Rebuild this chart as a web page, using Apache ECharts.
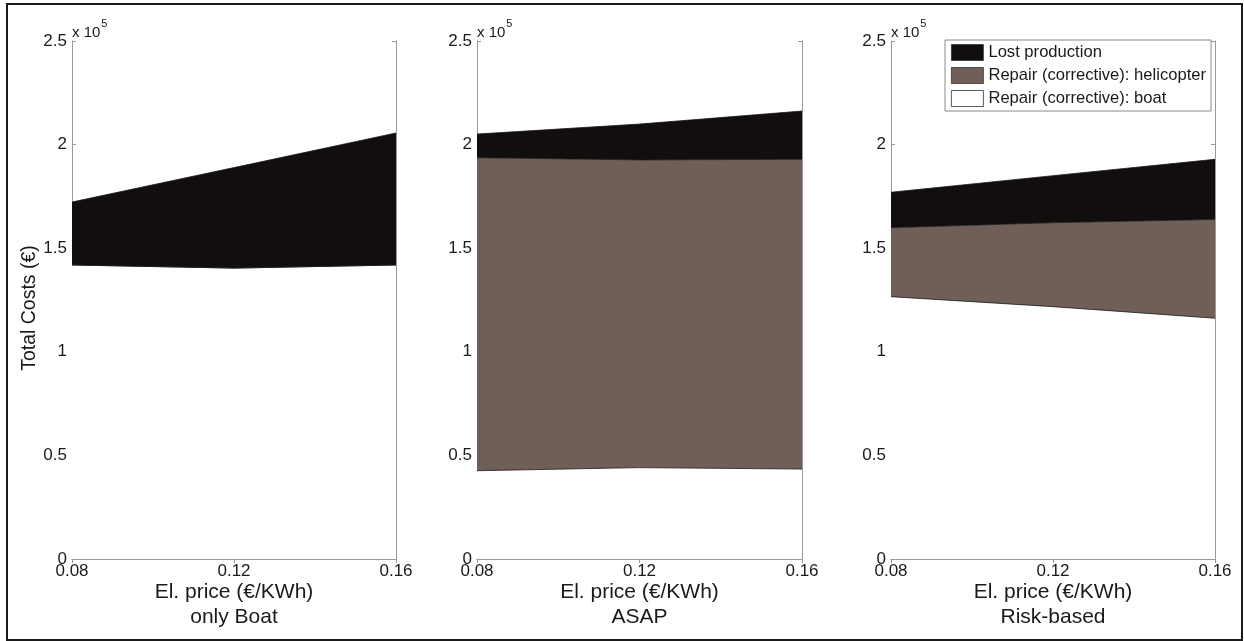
<!DOCTYPE html>
<html>
<head>
<meta charset="utf-8">
<script src="https://cdn.jsdelivr.net/npm/echarts@6/dist/echarts.min.js"></script>
<style>
html,body{margin:0;padding:0;background:#fff;}
#c{width:1244px;height:641px;}
</style>
</head>
<body>
<div id="c"></div>
<script>
// ---- data ----
const prices = ['0.08', '0.12', '0.16'];
const panelNames = ['only Boat', 'ASAP', 'Risk-based'];
const seriesNames = ['Repair (corrective): boat', 'Repair (corrective): helicopter', 'Lost production'];
// only Boat
const onlyBoatBoat = [141900, 140400, 141900];
const onlyBoatHeli = [0, 0, 0];
const onlyBoatLost = [30400, 48500, 63700];
// ASAP
const asapBoat = [42600, 44100, 43400];
const asapHeli = [151100, 148500, 149500];
const asapLost = [11400, 17300, 23300];
// Risk-based
const riskBoat = [126600, 121800, 116200];
const riskHeli = [33300, 40500, 47700];
const riskLost = [17100, 22700, 29000];
const yTicks = [0, 50000, 100000, 150000, 200000, 250000];

const panels = [
  [onlyBoatBoat, onlyBoatHeli, onlyBoatLost],
  [asapBoat, asapHeli, asapLost],
  [riskBoat, riskHeli, riskLost]
];
const fills = ['#ffffff', '#6f5f58', '#120e0d'];
const FONT = '"Liberation Sans", Arial, Helvetica, sans-serif';
const TXT = '#1a1a1a';
const AX = '#999999';

const gridPos = [
  {left: 72, width: 324},
  {left: 477, width: 325},
  {left: 891, width: 324}
];

const grid = [], xAxis = [], yAxis = [], series = [];
gridPos.forEach((g, i) => {
  grid.push({left: g.left, width: g.width, top: 41, height: 518, containLabel: false});
  xAxis.push({
    type: 'category', gridIndex: i, data: prices, boundaryGap: false, position: 'bottom',
    axisLine: {lineStyle: {color: AX, width: 1}},
    axisTick: {inside: true, length: 4, lineStyle: {color: AX}},
    axisLabel: {color: TXT, fontFamily: FONT, fontSize: 17, margin: 4},
    splitLine: {show: false},
    name: 'El. price (€/KWh)\n' + panelNames[i], nameLocation: 'middle', nameGap: 21,
    nameMoveOverlap: false,
    nameTextStyle: {color: TXT, fontFamily: FONT, fontSize: 21, lineHeight: 25}
  });
  xAxis.push({
    type: 'category', gridIndex: i, data: prices, boundaryGap: false, position: 'top',
    axisLine: {lineStyle: {color: AX, width: 1}},
    axisTick: {inside: true, length: 4, lineStyle: {color: AX}},
    axisLabel: {show: false}, splitLine: {show: false}
  });
  yAxis.push({
    type: 'value', gridIndex: i, min: yTicks[0], max: yTicks[yTicks.length - 1], interval: yTicks[1] - yTicks[0],
    position: 'left',
    axisLine: {show: true, lineStyle: {color: AX, width: 1}},
    axisTick: {show: true, inside: true, length: 4, lineStyle: {color: AX}},
    axisLabel: {color: TXT, fontFamily: FONT, fontSize: 17, margin: 5, formatter: v => String(v / 1e5)},
    splitLine: {show: false},
    name: '{a|x 10}{b|5}', nameLocation: 'end', nameGap: 1,
    nameMoveOverlap: false,
    nameTextStyle: {
      align: 'left', verticalAlign: 'bottom', color: TXT, fontFamily: FONT,
      rich: {
        a: {fontSize: 15, fontFamily: FONT, color: TXT, lineHeight: 22, verticalAlign: 'bottom'},
        b: {fontSize: 11, fontFamily: FONT, color: TXT, lineHeight: 22, verticalAlign: 'top', padding: [0, 0, 0, 1]}
      }
    }
  });
  yAxis.push({
    type: 'value', gridIndex: i, min: yTicks[0], max: yTicks[yTicks.length - 1], interval: yTicks[1] - yTicks[0],
    position: 'right',
    axisLine: {show: true, lineStyle: {color: AX, width: 1}},
    axisTick: {show: true, inside: true, length: 4, lineStyle: {color: AX}},
    axisLabel: {show: false}, splitLine: {show: false}
  });
  panels[i].forEach((vals, k) => {
    series.push({
      type: 'line', name: seriesNames[k], xAxisIndex: i * 2, yAxisIndex: i * 2,
      stack: 'p' + i, data: vals, symbol: 'none', showSymbol: false, smooth: false,
      lineStyle: {color: '#1a1a1a', width: 0.8},
      itemStyle: {color: fills[k]},
      areaStyle: {color: fills[k], opacity: 1},
      emphasis: {disabled: true}, silent: true, animation: false
    });
  });
});

const option = {
  backgroundColor: '#ffffff',
  animation: false,
  grid, xAxis, yAxis, series,
  legend: {
    orient: 'vertical', left: 945, top: 40,
    padding: [4, 5, 4, 6], itemGap: 6, itemWidth: 32, itemHeight: 16,
    backgroundColor: '#ffffff', borderColor: '#8a8a8a', borderWidth: 1, borderRadius: 0,
    textStyle: {color: TXT, fontFamily: FONT, fontSize: 16.6},
    selectedMode: false,
    data: [
      {name: seriesNames[2], icon: 'rect', itemStyle: {color: fills[2], borderColor: '#333', borderWidth: 0.8}},
      {name: seriesNames[1], icon: 'rect', itemStyle: {color: fills[1], borderColor: '#333', borderWidth: 0.8}},
      {name: seriesNames[0], icon: 'rect', itemStyle: {color: fills[0], borderColor: '#333', borderWidth: 0.8}}
    ]
  },
  graphic: [
    {type: 'rect', shape: {x: 7, y: 4, width: 1235, height: 636}, style: {fill: 'none', stroke: '#1a1a1a', lineWidth: 2}, silent: true},
    {type: 'text', x: 30, y: 308, rotation: Math.PI / 2,
     style: {text: 'Total Costs (€)', fill: TXT, font: '19.5px ' + FONT, align: 'center', verticalAlign: 'middle'}, silent: true}
  ]
};

const chart = echarts.init(document.getElementById('c'), null, {renderer: 'canvas'});
chart.setOption(option);
</script>
</body>
</html>
